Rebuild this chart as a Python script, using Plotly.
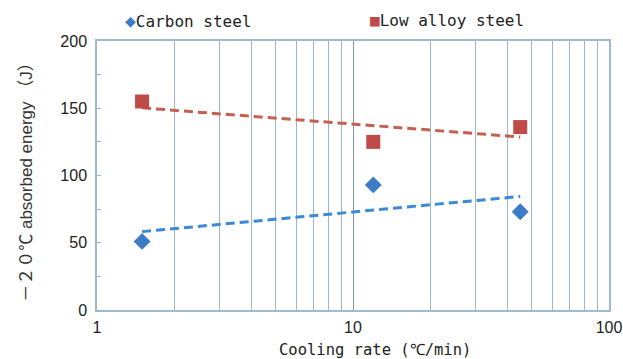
import numpy as np
import plotly.graph_objects as go

cooling_rate = [1.5, 12, 45]
carbon_steel = [51, 93, 73]
low_alloy_steel = [155, 125, 136]
y_ticks = [0, 50, 100, 150, 200]
x_ticks = [1, 10, 100]

def log_trend(x, y):
    lx = np.log10(np.array(x, dtype=float))
    a, b = np.polyfit(lx, np.array(y, dtype=float), 1)
    xs = np.array([min(x), max(x)], dtype=float)
    return xs, a * np.log10(xs) + b

fig = go.Figure()

tx, ty = log_trend(cooling_rate, carbon_steel)
fig.add_trace(go.Scatter(x=tx, y=ty, mode="lines", showlegend=False,
                         line=dict(color="#3a8ad6", width=3, dash="9px,5px")))
tx, ty = log_trend(cooling_rate, low_alloy_steel)
fig.add_trace(go.Scatter(x=tx, y=ty, mode="lines", showlegend=False,
                         line=dict(color="#c75f4f", width=3, dash="9px,5px")))

fig.add_trace(go.Scatter(x=cooling_rate, y=carbon_steel, mode="markers", name="Carbon steel",
                         showlegend=False,
                         marker=dict(symbol="diamond", size=13, color="#3d7cc4")))
fig.add_trace(go.Scatter(x=cooling_rate, y=low_alloy_steel, mode="markers", name="Low alloy steel",
                         showlegend=False,
                         marker=dict(symbol="square", size=14, color="#be4b48")))

axis_col = "#9fbad0"
fig.update_xaxes(type="log", range=[0, 2], tickvals=x_ticks, ticktext=[str(v) for v in x_ticks],
                 automargin=False,
                 showgrid=True, gridcolor="#7f97a8", gridwidth=1.2,
                 minor=dict(dtick="D1", showgrid=True, gridcolor="#9fb6c6", gridwidth=1.2, ticks=""),
                 showline=True, linecolor=axis_col, linewidth=1.5, mirror=True,
                 ticks="", zeroline=False, ticklabelstandoff=2,
                 tickfont=dict(family="Liberation Sans", size=16, color="#222222"))
fig.update_yaxes(range=[0, 200], tickvals=y_ticks, showgrid=False, zeroline=False,
                 automargin=False,
                 showline=True, linecolor=axis_col, linewidth=1.5, mirror=True,
                 ticks="inside", ticklen=4, tickcolor=axis_col,
                 minor=dict(dtick=25, ticks="inside", ticklen=4, tickcolor=axis_col),
                 ticklabelstandoff=5,
                 tickfont=dict(family="Liberation Sans", size=16, color="#222222"))

fig.add_annotation(xref="paper", yref="paper", x=-0.16, y=0.49, textangle=-90,
                   text="－２０℃ absorbed energy （J）", showarrow=False,
                   font=dict(family="Liberation Sans, Noto Sans CJK JP", size=17, color="#333333"))
fig.add_annotation(xref="paper", yref="paper", x=0.543, y=-0.147, yanchor="middle",
                   text="Cooling rate (℃/min)", showarrow=False,
                   font=dict(family="DejaVu Sans Mono", size=15.5, color="#222222"))
fig.add_annotation(xref="paper", yref="paper", x=(123 - 97) / 512, y=(310 - 20) / 269,
                   xanchor="left", yanchor="middle", showarrow=False,
                   text="<span style='color:#3d7cc4;font-size:18px'>◆</span>Carbon steel",
                   font=dict(family="DejaVu Sans Mono", size=16, color="#222222"))
fig.add_annotation(xref="paper", yref="paper", x=(368 - 97) / 512, y=(310 - 20) / 269,
                   xanchor="left", yanchor="middle", showarrow=False,
                   text="<span style='color:#be4b48'>■</span>Low alloy steel",
                   font=dict(family="DejaVu Sans Mono", size=16, color="#222222"))

fig.update_layout(width=623, height=359, margin=dict(l=97, r=14, t=41, b=49),
                  plot_bgcolor="white", paper_bgcolor="white", showlegend=False)

fig.write_html("out.html")
